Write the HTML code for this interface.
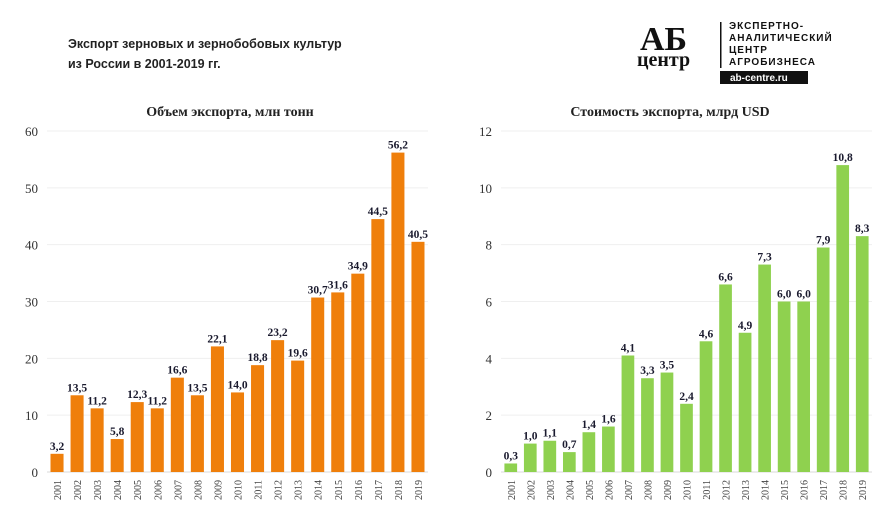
<!DOCTYPE html>
<html><head><meta charset="utf-8">
<style>
body{margin:0;background:#fff;width:885px;height:522px;overflow:hidden;font-family:"Liberation Sans",sans-serif}
svg text{font-family:"Liberation Serif",serif}
</style></head><body>
<svg id="s" width="885" height="522" xmlns="http://www.w3.org/2000/svg">
<text x="68" y="48" font-family="Liberation Sans" font-size="12.5" font-weight="bold" fill="#222" style="font-family:'Liberation Sans',sans-serif">Экспорт зерновых и зернобобовых культур</text>
<text x="68" y="68" font-size="12.5" font-weight="bold" fill="#222" style="font-family:'Liberation Sans',sans-serif">из России в 2001-2019 гг.</text>
<g>
<text x="640" y="50" font-size="34" font-weight="bold" fill="#111">АБ</text>
<text x="637" y="66" font-size="20" font-weight="bold" fill="#111">центр</text>
<rect x="720" y="22" width="1.5" height="46" fill="#111"/>
<text x="729" y="29" font-size="10" font-weight="bold" fill="#111" style="font-family:'Liberation Sans',sans-serif;letter-spacing:1px">ЭКСПЕРТНО-</text>
<text x="729" y="41" font-size="10" font-weight="bold" fill="#111" style="font-family:'Liberation Sans',sans-serif;letter-spacing:1px">АНАЛИТИЧЕСКИЙ</text>
<text x="729" y="53" font-size="10" font-weight="bold" fill="#111" style="font-family:'Liberation Sans',sans-serif;letter-spacing:1px">ЦЕНТР</text>
<text x="729" y="65" font-size="10" font-weight="bold" fill="#111" style="font-family:'Liberation Sans',sans-serif;letter-spacing:1px">АГРОБИЗНЕСА</text>
<rect x="720" y="71" width="88" height="13" fill="#111"/>
<text x="730" y="81" font-size="10" font-weight="bold" fill="#fff" style="font-family:'Liberation Sans',sans-serif">ab-centre.ru</text>
</g>
<text x="230" y="116" text-anchor="middle" font-size="14" font-weight="bold" fill="#222">Объем экспорта, млн тонн</text>
<text x="670" y="116" text-anchor="middle" font-size="14" font-weight="bold" fill="#222">Стоимость экспорта, млрд USD</text>
</svg>
<script>
const years=["2001","2002","2003","2004","2005","2006","2007","2008","2009","2010","2011","2012","2013","2014","2015","2016","2017","2018","2019"];
const volume=[3.2,13.5,11.2,5.8,12.3,11.2,16.6,13.5,22.1,14.0,18.8,23.2,19.6,30.7,31.6,34.9,44.5,56.2,40.5];
const value=[0.3,1.0,1.1,0.7,1.4,1.6,4.1,3.3,3.5,2.4,4.6,6.6,4.9,7.3,6.0,6.0,7.9,10.8,8.3];
const leftTicks=[0,10,20,30,40,50,60];
const rightTicks=[0,2,4,6,8,10,12];
const svg=document.getElementById('s');
const NS="http://www.w3.org/2000/svg";
function mk(t,a,p){const e=document.createElementNS(NS,t);for(const k in a)e.setAttribute(k,a[k]);(p||svg).appendChild(e);return e;}
function chart(name,vals,ticks,max,x0,x1,labX,color){
  const y0=472,yTop=131;
  const ys=v=>y0-(v/max)*(y0-yTop);
  const step=(x1-x0)/vals.length;
  const g=mk('g',{});
  
  
  ticks.forEach(t=>{
    const l=mk('line',{x1:x0,x2:x1,y1:ys(t),y2:ys(t),stroke:t===0?'#d9d9d9':'#efefef','stroke-width':1},g);
    
    
    const tx=mk('text',{x:labX,y:ys(t)+5,'text-anchor':'end','font-size':13,fill:'#333'},g);
    
    
    tx.textContent=t;
  });
  vals.forEach((v,i)=>{
    const cx=x0+step*(i+0.5), w=step*0.65;
    const r=mk('rect',{x:cx-w/2,y:ys(v),width:w,height:y0-ys(v),fill:color},g);
    
    
    const lb=mk('text',{x:cx,y:ys(v)-4,'text-anchor':'middle','font-size':11.5,'font-weight':'bold',fill:'#1a1a2e'},g);
    
    
    lb.textContent=v.toFixed(1).replace('.',',');
    const yl=mk('text',{x:0,y:0,'text-anchor':'end','font-size':10,fill:'#444',transform:`translate(${cx+4},${y0+8}) rotate(-90)`},g);
    
    
    yl.textContent=years[i];
  });
}
chart('volume-chart',volume,leftTicks,60,47,428,38,'#ef7f0b');
chart('value-chart',value,rightTicks,12,501,872,492,'#8fd14f');
</script>
</body></html>
